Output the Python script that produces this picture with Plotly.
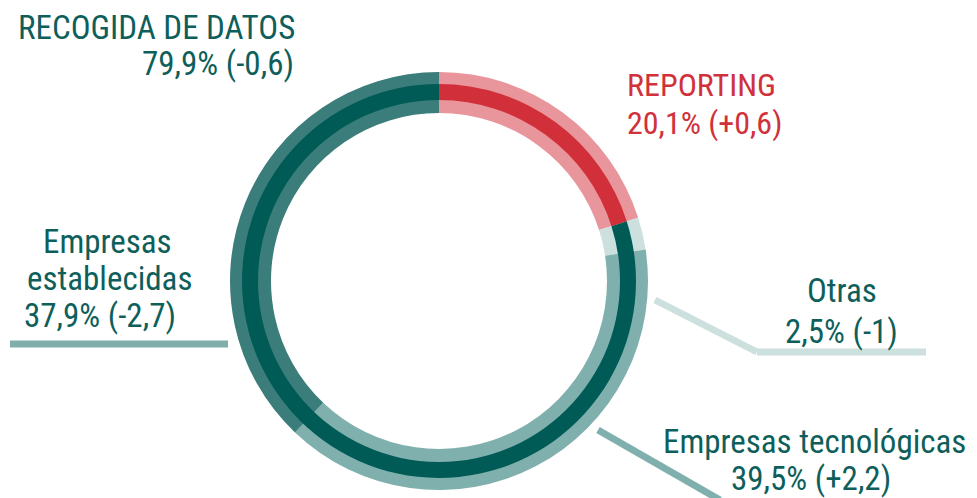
import plotly.graph_objects as go

# ---- data ----
main_labels = ["REPORTING", "RECOGIDA DE DATOS"]
main_values = [20.1, 79.9]
main_changes = ["+0,6", "-0,6"]

sub_labels = ["Reporting", "Otras", "Empresas tecnológicas", "Empresas establecidas"]
sub_values = [20.1, 2.5, 39.5, 37.9]
sub_changes = ["+0,6", "-1", "+2,2", "-2,7"]

# ---- styles ----
W, H = 977, 498
TEAL_TXT = "#0e5f5b"
RED_TXT = "#d0313b"
main_colors = ["#d12f39", "#005b57"]
sub_colors = ["#e8969c", "#cce0de", "#80b0ad", "#3b7d7a"]
FONT = "Roboto Condensed, Liberation Sans Narrow, Arial Narrow, DejaVu Sans Condensed, sans-serif"

def fx(px):
    return px / W

def fy(py):
    return 1 - py / H

cx, cy = 439, 281
r_outer, r_inner = 209, 168
r_main_out, r_main_in = 197, 181

def dom(r):
    return dict(x=[fx(cx - r), fx(cx + r)], y=[fy(cy + r), fy(cy - r)])

def fmt(v):
    return f"{v:.1f}".replace(".", ",") + "%"

fig = go.Figure()
fig.add_trace(go.Pie(
    labels=sub_labels, values=sub_values, sort=False, direction="clockwise",
    rotation=0, hole=r_inner / r_outer, domain=dom(r_outer),
    marker=dict(colors=sub_colors, line=dict(width=0)),
    textinfo="none", showlegend=False, hoverinfo="label+percent",
))
fig.add_trace(go.Pie(
    labels=main_labels, values=main_values, sort=False, direction="clockwise",
    rotation=0, hole=r_main_in / r_main_out, domain=dom(r_main_out),
    marker=dict(colors=main_colors, line=dict(width=0)),
    textinfo="none", showlegend=False, hoverinfo="label+percent",
))

# leader lines
lines = [
    ([(10, 344), (228, 344)], "#80aeab"),
    ([(655, 300), (757, 352), (926, 352)], "#cce0de"),
    ([(598, 430), (720, 500)], "#80b0ad"),
]
for pts, col in lines:
    for (x0, y0), (x1, y1) in zip(pts[:-1], pts[1:]):
        fig.add_shape(type="line", xref="paper", yref="paper",
                      x0=fx(x0), y0=fy(y0), x1=fx(x1), y1=fy(y1),
                      line=dict(color=col, width=7))

FS = 33
def txt(s, x, y, color, anchor="center", size=FS):
    fig.add_annotation(text=s, x=fx(x), y=fy(y), xref="paper", yref="paper",
                       xanchor=anchor, yanchor="middle", showarrow=False,
                       font=dict(family=FONT, size=size, color=color))

txt(main_labels[1], 297, 27, TEAL_TXT, "right")
txt(f"{fmt(main_values[1])} ({main_changes[1]})", 296, 63, TEAL_TXT, "right")
txt(main_labels[0], 625, 85, RED_TXT, "left", 32)
txt(f"{fmt(main_values[0])} ({main_changes[0]})", 625, 123, RED_TXT, "left", 32)

txt("Empresas", 107, 241, TEAL_TXT)
txt("establecidas", 109, 278, TEAL_TXT)
txt(f"{fmt(sub_values[3])} ({sub_changes[3]})", 100, 315, TEAL_TXT)

txt(sub_labels[1], 842, 290, TEAL_TXT)
txt(f"{fmt(sub_values[1])} ({sub_changes[1]})", 841, 331, TEAL_TXT)

txt(sub_labels[2], 814, 441, TEAL_TXT)
txt(f"{fmt(sub_values[2])} ({sub_changes[2]})", 811, 478, TEAL_TXT)

fig.update_layout(width=W, height=H, margin=dict(l=0, r=0, t=0, b=0),
                  paper_bgcolor="white", plot_bgcolor="white")
fig.write_html("out.html", config={"displayModeBar": False},
               post_script="document.body.style.margin='0px';document.body.style.overflow='hidden';")
